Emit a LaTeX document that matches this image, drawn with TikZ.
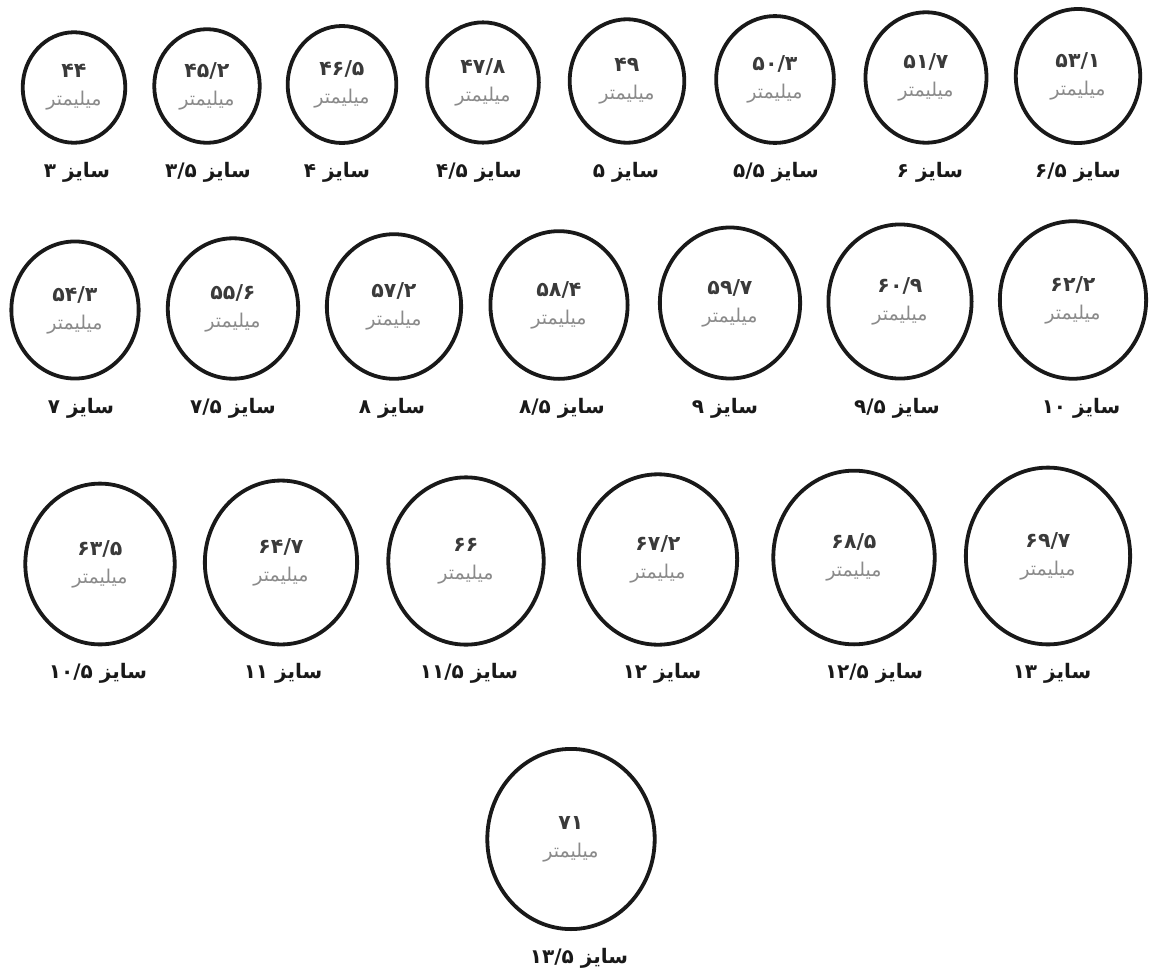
\documentclass[tikz,border=0pt]{standalone}
\usepackage{fontspec}
\usetikzlibrary{shapes.geometric}
\newfontfamily\fa[Script=Arabic]{DejaVu Sans}
\TeXXeTstate=1
\definecolor{numgray}{HTML}{3A3A3A}
\definecolor{unitgray}{HTML}{8A8A8A}
\newcommand\mili{{\color{unitgray}\mdseries\fontsize{19}{22}\selectfont\beginR میلیمتر\endR}}
\newcommand\sayz[1]{\beginR سایز \beginL#1\endL\endR}

\begin{document}
\begin{tikzpicture}[x=1pt, y=-1pt,
  ring/.style 2 args={ellipse, draw=black!90, line width=3.8pt, minimum width=#1, minimum height=#2,
    inner sep=0pt, align=center, text=numgray, font=\fa\bfseries\fontsize{20.5}{28}\selectfont},
  sizetag/.style={font=\fa\bfseries\fontsize{20}{22}\selectfont, text=black!90, inner sep=0pt}]
  \useasboundingbox (0,0) rectangle (1157,974);
  \node[ring={102.6}{110.5}] (s3) at (74,87.5) {۴۴\\\mili};
  \node[ring={105.5}{113.6}] (s3h) at (207,86) {۴۵/۲\\\mili};
  \node[ring={108.6}{117}] (s4) at (342,84.5) {۴۶/۵\\\mili};
  \node[ring={111.7}{120.3}] (s4h) at (483,82.5) {۴۷/۸\\\mili};
  \node[ring={114.6}{123.4}] (s5) at (627,81) {۴۹\\\mili};
  \node[ring={117.7}{126.8}] (s5h) at (775,79.5) {۵۰/۳\\\mili};
  \node[ring={121}{130.4}] (s6) at (926,77.5) {۵۱/۷\\\mili};
  \node[ring={124.4}{134}] (s6h) at (1078,76) {۵۳/۱\\\mili};
  \node[sizetag] (t3) at (77,172) {\sayz{۳}};
  \node[sizetag] (t3h) at (208,172) {\sayz{۳/۵}};
  \node[sizetag] (t4) at (337,172) {\sayz{۴}};
  \node[sizetag] (t4h) at (479,172) {\sayz{۴/۵}};
  \node[sizetag] (t5) at (626,172) {\sayz{۵}};
  \node[sizetag] (t5h) at (776,172) {\sayz{۵/۵}};
  \node[sizetag] (t6) at (930,172) {\sayz{۶}};
  \node[sizetag] (t6h) at (1078,172) {\sayz{۶/۵}};

  \node[ring={127.3}{137.1}] (s7) at (75,310) {۵۴/۳\\\mili};
  \node[ring={130.4}{140.4}] (s7h) at (233,308.5) {۵۵/۶\\\mili};
  \node[ring={134.3}{144.6}] (s8) at (394,306.5) {۵۷/۲\\\mili};
  \node[ring={137.2}{147.7}] (s8h) at (559,305) {۵۸/۴\\\mili};
  \node[ring={140.3}{151}] (s9) at (730,303) {۵۹/۷\\\mili};
  \node[ring={143.2}{154.1}] (s9h) at (900,301.5) {۶۰/۹\\\mili};
  \node[ring={146.3}{157.5}] (s10) at (1073,300) {۶۲/۲\\\mili};
  \node[sizetag] (t7) at (81,408) {\sayz{۷}};
  \node[sizetag] (t7h) at (233,408) {\sayz{۷/۵}};
  \node[sizetag] (t8) at (392,408) {\sayz{۸}};
  \node[sizetag] (t8h) at (562,408) {\sayz{۸/۵}};
  \node[sizetag] (t9) at (725,408) {\sayz{۹}};
  \node[sizetag] (t9h) at (897,408) {\sayz{۹/۵}};
  \node[sizetag] (t10) at (1081,408) {\sayz{۱۰}};

  \node[ring={149.4}{160.8}] (s10h) at (100,564) {۶۳/۵\\\mili};
  \node[ring={152.3}{163.9}] (s11) at (281,562.5) {۶۴/۷\\\mili};
  \node[ring={155.4}{167.3}] (s11h) at (466,561) {۶۶\\\mili};
  \node[ring={158.3}{170.4}] (s12) at (658,559.5) {۶۷/۲\\\mili};
  \node[ring={161.4}{173.7}] (s12h) at (854,557.5) {۶۸/۵\\\mili};
  \node[ring={164.3}{176.8}] (s13) at (1048,556) {۶۹/۷\\\mili};
  \node[sizetag] (t10h) at (98,673) {\sayz{۱۰/۵}};
  \node[sizetag] (t11) at (283,673) {\sayz{۱۱}};
  \node[sizetag] (t11h) at (469,673) {\sayz{۱۱/۵}};
  \node[sizetag] (t12) at (662,673) {\sayz{۱۲}};
  \node[sizetag] (t12h) at (874,673) {\sayz{۱۲/۵}};
  \node[sizetag] (t13) at (1052,673) {\sayz{۱۳}};

  \node[ring={167.4}{180.2}] (s13h) at (571,839) {۷۱\\\mili};
  \node[sizetag] (t13h) at (579,958) {\sayz{۱۳/۵}};
\end{tikzpicture}
\end{document}
